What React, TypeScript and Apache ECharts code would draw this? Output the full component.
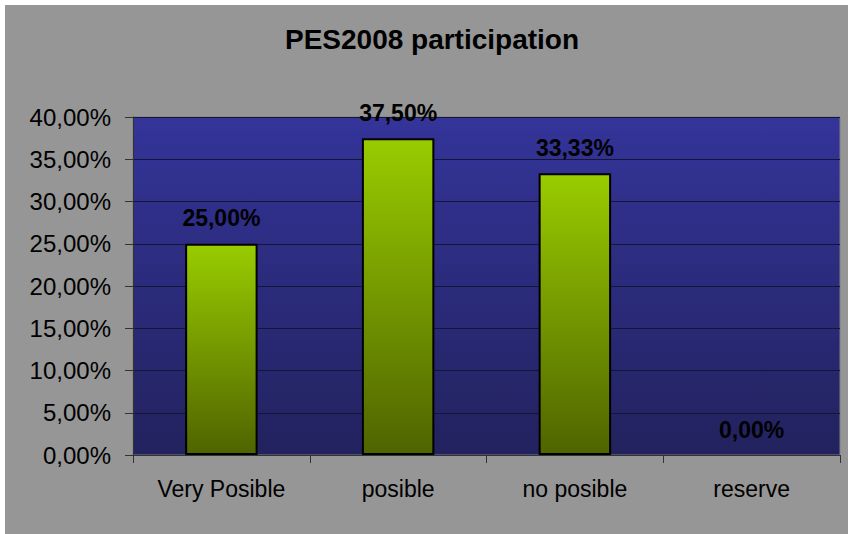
import React, { useEffect, useRef } from "react";
import * as echarts from "echarts";

const categories = ["Very Posible", "posible", "no posible", "reserve"];
const values = [25.0, 37.5, 33.33, 0.0];
const chartTitle = "PES2008 participation";
const yMin = 0;
const yMax = 40;
const yStep = 5;

const fmt = (v: number) => v.toFixed(2).replace(".", ",") + "%";

export default function App() {
  const ref = useRef<HTMLDivElement>(null);
  useEffect(() => {
    if (!ref.current) return;
    const chart = echarts.init(ref.current, undefined, { renderer: "svg" });
    const font = "'Liberation Sans', Arial, sans-serif";
    chart.setOption({
      animation: false,
      backgroundColor: "#969696",
      graphic: [
        {
          type: "text",
          x: 427,
          y: 34,
          style: {
            text: chartTitle,
            font: `bold 28px ${font}`,
            fill: "#000",
            textAlign: "center",
            textVerticalAlign: "middle",
          },
        },
      ],
      grid: {
        left: 128,
        top: 112,
        right: 8,
        bottom: 79,
        show: true,
        borderColor: "#7f7f7f",
        borderWidth: 1,
        backgroundColor: new echarts.graphic.LinearGradient(0, 0, 0, 1, [
          { offset: 0, color: "#34349a" },
          { offset: 1, color: "#22225e" },
        ]),
      },
      xAxis: {
        type: "category",
        data: categories,
        axisLine: { show: true, lineStyle: { color: "#333", width: 1 } },
        axisTick: { show: true, length: 8, lineStyle: { color: "#333" } },
        axisLabel: {
          color: "#000",
          fontFamily: font,
          fontSize: 23,
          margin: 22,
        },
        splitLine: { show: false },
      },
      yAxis: {
        type: "value",
        min: yMin,
        max: yMax,
        interval: yStep,
        axisLine: { show: true, lineStyle: { color: "#333", width: 1 } },
        axisTick: { show: true, length: 8, lineStyle: { color: "#333" } },
        axisLabel: {
          color: "#000",
          fontFamily: font,
          fontSize: 24,
          margin: 22,
          formatter: (v: number) => fmt(v),
        },
        splitLine: { show: true, lineStyle: { color: "#15153a", width: 1 } },
      },
      series: [
        {
          type: "bar",
          data: values.map((v) =>
            v === 0
              ? { value: v, itemStyle: { borderWidth: 0, borderColor: "transparent" } }
              : v
          ),
          barWidth: "41%",
          itemStyle: {
            color: new echarts.graphic.LinearGradient(0, 0, 0, 1, [
              { offset: 0, color: "#99cc00" },
              { offset: 1, color: "#4f6400" },
            ]),
            borderColor: "#000",
            borderWidth: 2,
          },
          label: {
            show: true,
            position: "top",
            distance: 14,
            color: "#000",
            fontFamily: font,
            fontWeight: "bold",
            fontSize: 23,
            formatter: (p: any) => fmt(p.value),
          },
        },
      ],
    });
    return () => chart.dispose();
  }, []);
  return (
    <div
      style={{
        position: "fixed",
        left: 0,
        top: 0,
        width: 848,
        height: 534,
        background: "#fff",
      }}
    >
      <div
        ref={ref}
        style={{ position: "absolute", left: 5, top: 5, width: 843, height: 529 }}
      />
    </div>
  );
}
